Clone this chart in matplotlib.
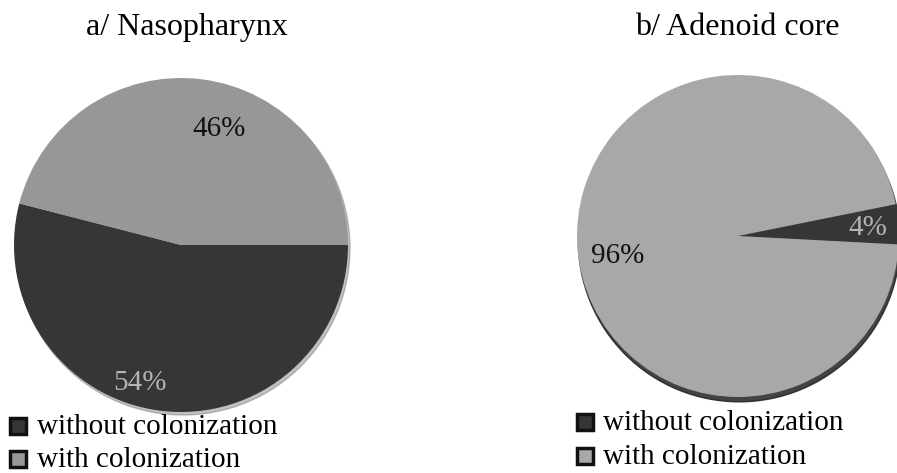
import matplotlib.pyplot as plt
import numpy as np
from matplotlib.patches import Rectangle, Circle

plt.rcParams['font.family'] = ['Liberation Serif', 'DejaVu Serif']

labels = ['without colonization', 'with colonization']
dark = '#363636'
label_colors = ['#b4b4b4', '#111111']

titles = ['a/ Nasopharynx', 'b/ Adenoid core']
naso = [54, 46]
adenoid = [4, 96]

W, H = 897, 473
PAD = 1.1
fig = plt.figure(figsize=(W / 100, H / 100), dpi=100)


def px_axes(cx, cy, r):
    # axes in pixel units (top-left origin), a bit larger than the unit circle
    R = r * PAD
    return fig.add_axes([(cx - R) / W, (H - cy - R) / H, 2 * R / W, 2 * R / H])


def draw_pie(ax, values, start, offsets, wedge_colors, shadow):
    ax.add_patch(Circle(shadow[0], 1.0, color=shadow[1], alpha=shadow[2], zorder=0))
    ax.pie(values, colors=wedge_colors, startangle=start,
           counterclock=False, radius=1.0, wedgeprops=dict(linewidth=0))
    total = float(sum(values))
    cum = 0.0
    for v, (rr, da), c in zip(values, offsets, label_colors):
        mid = start - 360.0 * (cum + v / 2) / total
        cum += v
        ang = np.deg2rad(mid + da)
        ax.text(rr * np.cos(ang), rr * np.sin(ang), f'{v}%',
                ha='center', va='center', fontsize=21, color=c)
    ax.set_xlim(-PAD, PAD)
    ax.set_ylim(-PAD, PAD)
    ax.set_aspect('equal')
    ax.axis('off')


ax1 = px_axes(181, 245, 167)
draw_pie(ax1, naso, 0, [(0.86, -9.4), (0.73, -10.9)], [dark, '#979797'],
         ((0.012, -0.018), '#777777', 0.45))

ax2 = px_axes(738, 236, 161)
draw_pie(ax2, adenoid, 11.4, [(0.81, -0.6), (0.76, 5)], [dark, '#a8a8a8'],
         ((0.008, -0.03), '#222222', 0.85))

fig.text(187 / W, 1 - 35 / H, titles[0], ha='center', va='baseline', fontsize=23)
fig.text(737 / W, 1 - 35 / H, titles[1], ha='center', va='baseline', fontsize=23)

# legends drawn as boxes plus text: (box x, text x, row centres, box fills)
legend_pos = [(10, 37, (426, 459), (dark, '#979797')),
              (577, 603, (422, 456), (dark, '#a8a8a8'))]
for x0, tx, rows, fills in legend_pos:
    for y, lab, col in zip(rows, labels, fills):
        fig.patches.append(Rectangle((x0 / W, 1 - (y + 8) / H), 16 / W, 16 / H,
                                     transform=fig.transFigure, facecolor=col,
                                     edgecolor='#111111', linewidth=2.5))
        fig.text(tx / W, 1 - (y + 1) / H, lab, ha='left', va='center',
                 fontsize=21)

fig.savefig('out.png', dpi=100)
